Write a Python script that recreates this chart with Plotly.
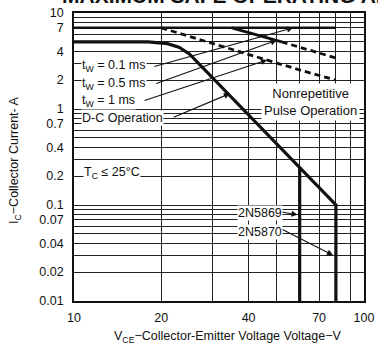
import numpy as np
import plotly.graph_objects as go

# ---- data ----
x_tickvals = [10, 20, 40, 70, 100]
x_ticktext = ["10", "20", "40", "70", "100"]
y_tickvals = [0.01, 0.02, 0.04, 0.07, 0.1, 0.2, 0.4, 0.7, 1, 2, 4, 7, 10]
y_ticktext = ["0.01", "0.02", "0.04", "0.07", "0.1", "0.2", "0.4", "0.7", "1", "2", "4", "7", "10"]
x_grid = [20, 30, 40, 50, 60, 70, 80, 90]
y_grid = [m * d for d in (0.01, 0.1, 1) for m in range(2, 10)] + [0.1, 1]

# D-C operation (2N5870 boundary to 80 V)
dc_v = [10, 18, 21, 23, 25, 30.6, 40, 50, 60, 80, 80]
dc_i = [5, 5, 4.8, 4.4, 3.75, 2.0, 0.87, 0.44, 0.25, 0.1, 0.01]
# 2N5869 voltage limit (60 V)
lim69_v = [60, 60]
lim69_i = [0.25, 0.01]
# tw = 0.1 ms
p01_v = [10, 80]
p01_i = [7, 7]
# tw = 0.5 ms (solid part then dashed part)
p05s_v = [35, 52]
p05s_i = [7, 5.0]
p05d_v = [52, 80]
p05d_i = [5.0, 3.4]
# tw = 1 ms (dashed)
p1_v = [20, 30, 40, 50, 60, 80]
p1_i = [7, 4.8, 3.7, 3.0, 2.55, 2.0]

INK = "#111111"
FONT = "Liberation Sans, Arial, Helvetica, sans-serif"

fig = go.Figure()
fig.add_trace(go.Scatter(x=dc_v, y=dc_i, mode="lines", line=dict(color=INK, width=3.2), hoverinfo="skip"))
fig.add_trace(go.Scatter(x=lim69_v, y=lim69_i, mode="lines", line=dict(color=INK, width=3.2), hoverinfo="skip"))
fig.add_trace(go.Scatter(x=p01_v, y=p01_i, mode="lines", line=dict(color=INK, width=2.5), hoverinfo="skip"))
fig.add_trace(go.Scatter(x=p05s_v, y=p05s_i, mode="lines", line=dict(color=INK, width=2.8), hoverinfo="skip"))
fig.add_trace(go.Scatter(x=p05d_v, y=p05d_i, mode="lines", line=dict(color=INK, width=2.8, dash="6px,4px"), hoverinfo="skip"))
fig.add_trace(go.Scatter(x=p1_v, y=p1_i, mode="lines", line=dict(color=INK, width=2.8, dash="6px,4px"), hoverinfo="skip"))

L = np.log10
ann = []
# leader arrows: (head V, head I, tail V, tail I)
leaders = [
    (56.9, 7.0, 18.7, 2.74),
    (50.0, 5.2, 19.0, 1.82),
    (46.3, 3.24, 17.3, 1.21),
    (34.5, 1.45, 21.8, 0.81),
    (59.0, 0.079, 51.5, 0.085),
    (78.2, 0.030, 51.5, 0.057),
]
for hv, hi, tv, ti in leaders:
    ann.append(dict(x=L(hv), y=L(hi), ax=L(tv), ay=L(ti), xref="x", yref="y", axref="x", ayref="y",
                    text="", showarrow=True, arrowhead=2, arrowsize=1.1, arrowwidth=1.1, arrowcolor=INK))

def px(xp):
    return (xp - 74) / 290.0

def py(yp):
    return (301 - yp) / 288.0

labels = [
    ("t<sub>W</sub> = 0.1 ms", 81, 66, "left"),
    ("t<sub>W</sub> = 0.5 ms", 81, 84, "left"),
    ("t<sub>W</sub> = 1 ms", 81, 101, "left"),
    ("D-C Operation", 81, 118, "left"),
    ("T<sub>C</sub> ≤ 25°C", 83, 173, "left"),
    ("2N5869", 283, 213, "right"),
    ("2N5870", 283, 232, "right"),
]
for t, xx, yy, anc in labels:
    ann.append(dict(x=px(xx), y=py(yy), xref="paper", yref="paper", text=t, showarrow=False,
                    xanchor=anc, yanchor="middle", bgcolor="white", borderpad=0,
                    font=dict(family=FONT, size=12.5, color=INK)))

ann.append(dict(x=px(310), y=py(102), xref="paper", yref="paper", text="Nonrepetitive<br>Pulse Operation",
                showarrow=False, xanchor="center", yanchor="middle", align="center", bgcolor="white",
                borderpad=2, font=dict(family=FONT, size=13, color=INK)))

# axis titles
ann.append(dict(x=px(228), y=py(337), xref="paper", yref="paper",
                text="V<sub>CE</sub>−Collector-Emitter Voltage Voltage−V", showarrow=False,
                xanchor="center", yanchor="middle", font=dict(family=FONT, size=12.5, color=INK)))
ann.append(dict(x=px(15), y=py(160), xref="paper", yref="paper",
                text="I<sub>C</sub>−Collector Current- A", showarrow=False, textangle=-90,
                xanchor="center", yanchor="middle", font=dict(family=FONT, size=12.5, color=INK)))

axis_common = dict(showline=True, linecolor=INK, linewidth=1.6, mirror=True, ticks="",
                   showgrid=True, gridcolor="#222222", gridwidth=1, zeroline=False, automargin=False,
                   tickfont=dict(family=FONT, size=12.5, color=INK))

fig.update_layout(
    width=378, height=348,
    margin=dict(l=74, r=14, t=13, b=47, autoexpand=False),
    paper_bgcolor="white", plot_bgcolor="white",
    showlegend=False,
    annotations=ann,
    # heading of the datasheet page, cropped at the top edge of the picture
    title=dict(text="<b>MAXIMUM SAFE OPERATING AREA</b>", x=62 / 378, xref="container", xanchor="left",
               y=1 - 3 / 348, yref="container", yanchor="bottom",
               font=dict(family=FONT, size=21, color=INK)),
    xaxis=dict(type="log", range=[1, 2], tickvals=x_tickvals, ticktext=x_ticktext,
               ticklabelstandoff=4,
               minor=dict(tickvals=x_grid, showgrid=True, gridcolor="#222222", gridwidth=1, ticks=""),
               **axis_common),
    yaxis=dict(type="log", range=[-2, 1], tickvals=y_tickvals, ticktext=y_ticktext,
               ticklabelstandoff=6,
               minor=dict(tickvals=y_grid, showgrid=True, gridcolor="#222222", gridwidth=1, ticks=""),
               **axis_common),
)

fig.write_html("out.html", config={"displayModeBar": False},
               post_script="document.body.style.margin='0';document.body.style.padding='0';document.body.style.overflow='hidden';")
